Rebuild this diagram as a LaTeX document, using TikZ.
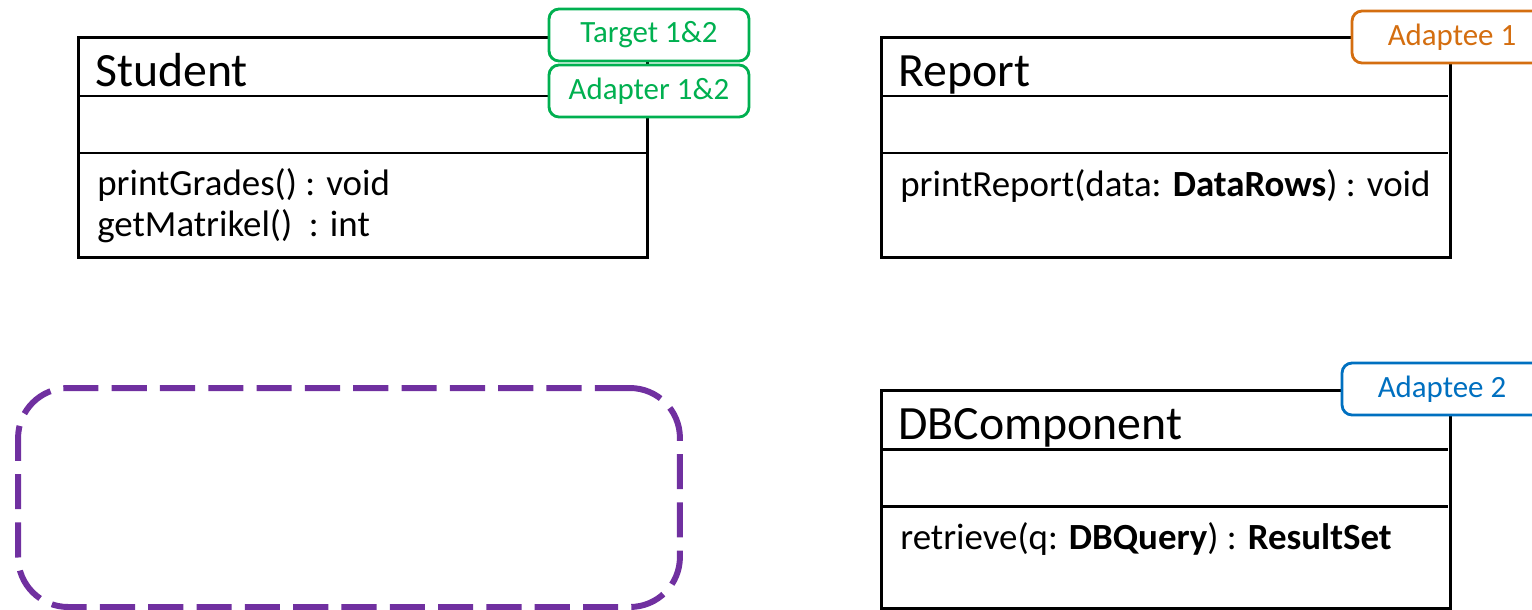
\documentclass[tikz,border=0pt]{standalone}
\usepackage{fontspec}
\setmainfont{Carlito}
\definecolor{tagGreen}{RGB}{0,176,80}
\definecolor{tagOrange}{RGB}{212,110,16}
\definecolor{tagBlue}{RGB}{0,112,192}
\definecolor{slotPurple}{RGB}{112,48,160}

\begin{document}
\begin{tikzpicture}[x=0.02cm,y=-0.02cm,
  classbox/.style={draw,line width=1.6pt,anchor=north west,minimum width=11.38cm,inner sep=0pt},
  classname/.style={anchor=base west,inner sep=0pt,font=\fontsize{27.2}{30}\selectfont},
  member/.style={anchor=base west,inner sep=0pt,font=\fontsize{21}{24}\selectfont},
  divider/.style={line width=1.7pt},
  roletag/.style={draw,fill=white,line width=1.6pt,rounded corners=0.2cm,minimum width=4cm,minimum height=1.04cm,inner sep=0pt,font=\fontsize{17.6}{20}\selectfont},
  slot/.style={draw=slotPurple,line width=3.4pt,rounded corners=1cm,dash pattern=on 20pt off 7.5pt,minimum width=13.24cm,minimum height=4.38cm,inner sep=0pt}]

  \useasboundingbox (0,0) rectangle (1532,609);

  \node at (77,36) [classbox,minimum height=4.4cm] (student) {};
  \node at (95,86) [classname] (studentname) {Student};
  \node at (97,195) [member] (studentop1) {printGrades() : void};
  \node at (97,236) [member] (studentop2) {getMatrikel()\ \ : int};
  \draw[divider] (student.north west) ++(0,60) -- ++(569,0);
  \draw[divider] (student.north west) ++(0,117) -- ++(569,0);

  \node at (880,36) [classbox,minimum height=4.4cm] (report) {};
  \node at (898,86) [classname] (reportname) {Report};
  \node at (900,196) [member] (reportop) {printReport(data: \textbf{DataRows}) : void};
  \draw[divider] (report.north west) ++(0,60) -- ++(568,0);
  \draw[divider] (report.north west) ++(0,117) -- ++(568,0);

  \node at (880,389) [classbox,minimum height=4.36cm] (db) {};
  \node at (898,439) [classname] (dbname) {DBComponent};
  \node at (900,549) [member] (dbop) {retrieve(q: \textbf{DBQuery}) : \textbf{ResultSet}};
  \draw[divider] (db.north west) ++(0,60) -- ++(568,0);
  \draw[divider] (db.north west) ++(0,117) -- ++(568,0);

  \node at (649,35) [roletag,draw=tagGreen,text=tagGreen] (target) {Target 1\&2};
  \node at (649,91) [roletag,draw=tagGreen,text=tagGreen] (adapter) {Adapter 1\&2};
  \node at (1452,37) [roletag,draw=tagOrange,text=tagOrange] (adaptee1) {Adaptee 1};
  \node at (1442,389) [roletag,draw=tagBlue,text=tagBlue] (adaptee2) {Adaptee 2};

  \node at (349,497.5) [slot] (slot) {};
\end{tikzpicture}
\end{document}
